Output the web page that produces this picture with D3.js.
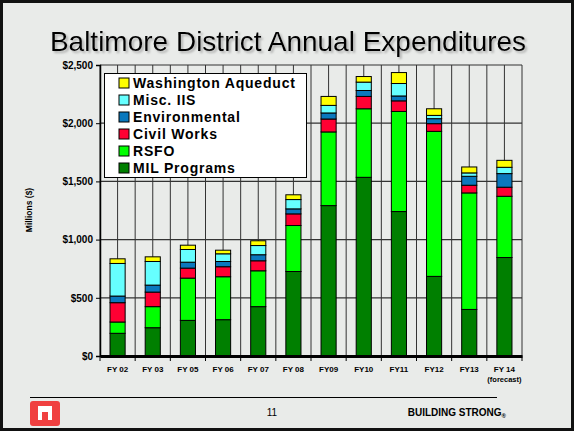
<!DOCTYPE html>
<html>
<head>
<meta charset="utf-8">
<script src="https://cdn.jsdelivr.net/npm/d3@7"></script>
<style>
  html, body { margin: 0; padding: 0; }
  body { width: 574px; height: 431px; overflow: hidden; }
  svg { display: block; font-family: "Liberation Sans", Arial, sans-serif; }
</style>
</head>
<body>
<div id="chart"></div>
<script>
// Datos (millones de $)
const years = ["FY 02", "FY 03", "FY 05", "FY 06", "FY 07", "FY 08", "FY09", "FY10", "FY11", "FY12", "FY13", "FY 14"];
const milPrograms = [195, 243, 306, 312, 424, 726, 1292, 1535, 1241, 684, 400, 846];
const rsfo        = [97, 181, 363, 369, 308, 395, 633, 589, 860, 1246, 1001, 526];
const civilWorks  = [166, 125, 86, 86, 86, 100, 111, 106, 91, 66, 66, 78];
const environmental = [57, 60, 51, 45, 52, 43, 52, 51, 42, 43, 77, 117];
const miscIIS     = [280, 203, 109, 66, 79, 80, 65, 72, 107, 28, 29, 54];
const washAqueduct = [40, 40, 37, 31, 41, 41, 77, 48, 94, 57, 51, 60];
const yTicks = [0, 500, 1000, 1500, 2000, 2500];

const series = [
    { key: "MIL Programs", values: milPrograms, color: "#007f00" },
    { key: "RSFO", values: rsfo, color: "#00ff00" },
    { key: "Civil Works", values: civilWorks, color: "#ff0033" },
    { key: "Environmental", values: environmental, color: "#0a78bd" },
    { key: "Misc. IIS", values: miscIIS, color: "#66ffff" },
    { key: "Washington Aqueduct", values: washAqueduct, color: "#ffff00" }
];

// Tabla para d3.stack
const table = years.map((y, i) => {
    const row = { year: y };
    series.forEach(s => row[s.key] = s.values[i]);
    return row;
});

const W = 574, H = 431;
const svg = d3.select("#chart").append("svg").attr("width", W).attr("height", H);

// Sombra del título
const defs = svg.append("defs");
defs.append("filter").attr("id", "shadow").attr("x", "-5%").attr("y", "-20%").attr("width", "110%").attr("height", "150%")
    .append("feDropShadow").attr("dx", 2).attr("dy", 2).attr("stdDeviation", 1)
    .attr("flood-color", "#888").attr("flood-opacity", 0.6);

// Fondo de la diapositiva
svg.append("rect").attr("width", W).attr("height", H).attr("fill", "#e9ebe9");
svg.append("rect").attr("x", 1.5).attr("y", 1.5).attr("width", W - 3).attr("height", H - 3)
    .attr("fill", "none").attr("stroke", "#111").attr("stroke-width", 3);

// Título
svg.append("text").attr("x", 288).attr("y", 51).attr("text-anchor", "middle")
    .attr("font-size", 28).attr("fill", "#000").attr("filter", "url(#shadow)")
    .text("Baltimore District Annual Expenditures");

// Área del gráfico
const plot = { left: 100, right: 522, top: 65, bottom: 356 };
const x = d3.scaleBand().domain(years).range([plot.left, plot.right]).paddingInner(0).paddingOuter(0);
const y = d3.scaleLinear().domain([0, 2500]).range([plot.bottom, plot.top]);

const g = svg.append("g");

// Rejilla vertical (bordes y centros de cada categoría)
const vLines = [];
years.forEach(yr => { vLines.push(x(yr)); vLines.push(x(yr) + x.bandwidth() / 2); });
vLines.push(plot.right);
g.selectAll("line.v").data(vLines).join("line")
    .attr("x1", d => d).attr("x2", d => d).attr("y1", plot.top).attr("y2", plot.bottom)
    .attr("stroke", "#333").attr("stroke-width", 1);

// Rejilla horizontal
g.selectAll("line.h").data(yTicks.slice(1)).join("line")
    .attr("x1", plot.left).attr("x2", plot.right).attr("y1", d => y(d)).attr("y2", d => y(d))
    .attr("stroke", "#333").attr("stroke-width", 1.2);

// Barras apiladas
const stack = d3.stack().keys(series.map(s => s.key));
const layers = stack(table);
const barW = x.bandwidth() * 0.43;
g.selectAll("g.layer").data(layers).join("g")
    .attr("fill", (d, i) => series[i].color)
    .selectAll("rect").data(d => d).join("rect")
    .attr("x", d => x(d.data.year) + (x.bandwidth() - barW) / 2)
    .attr("y", d => y(d[1]))
    .attr("width", barW)
    .attr("height", d => y(d[0]) - y(d[1]))
    .attr("stroke", "#000").attr("stroke-width", 1);

// Eje Y
const yAxis = svg.append("g").attr("transform", `translate(${plot.left},0)`)
    .call(d3.axisLeft(y).tickValues(yTicks).tickSize(4).tickFormat(d => "$" + d3.format(",")(d)));
yAxis.select(".domain").attr("stroke", "#000").attr("stroke-width", 1.5);
yAxis.selectAll("text").attr("font-size", 10).attr("font-weight", "bold").attr("fill", "#000")
    .attr("font-family", "Liberation Sans, Arial, sans-serif");

// Eje X
const xAxis = svg.append("g").attr("transform", `translate(0,${plot.bottom})`)
    .call(d3.axisBottom(x).tickSize(0).tickSizeOuter(0));
xAxis.select(".domain").attr("stroke", "#000").attr("stroke-width", 3);
xAxis.selectAll("text").attr("font-size", 8).attr("font-weight", "bold").attr("fill", "#000")
    .attr("dy", "1.6em").attr("font-family", "Liberation Sans, Arial, sans-serif");
// marcas en los bordes de categoría
svg.append("g").selectAll("line").data(years.map(d => x(d)).concat([plot.right])).join("line")
    .attr("x1", d => d).attr("x2", d => d).attr("y1", plot.bottom).attr("y2", plot.bottom + 5)
    .attr("stroke", "#000").attr("stroke-width", 1);
svg.append("text").attr("x", x("FY 14") + x.bandwidth() / 2).attr("y", 382)
    .attr("text-anchor", "middle").attr("font-size", 7.5).attr("font-weight", "bold").text("(forecast)");

// Título eje Y
svg.append("text").attr("transform", "translate(32,210) rotate(-90)").attr("text-anchor", "middle")
    .attr("font-size", 8.5).attr("font-weight", "bold").text("Millions ($)");

// Leyenda
const legend = svg.append("g");
legend.append("rect").attr("x", 104.5).attr("y", 73.5).attr("width", 202).attr("height", 104)
    .attr("fill", "#fff").attr("stroke", "#000").attr("stroke-width", 1);
const legItems = series.slice().reverse();
const li = legend.selectAll("g.item").data(legItems).join("g")
    .attr("transform", (d, i) => `translate(119,${83 + i * 17})`);
li.append("rect").attr("x", 0).attr("y", -5).attr("width", 10).attr("height", 10)
    .attr("fill", d => d.color).attr("stroke", "#000").attr("stroke-width", 1);
li.append("text").attr("x", 14).attr("y", 5).attr("font-size", 14).attr("letter-spacing", 0.8)
    .attr("font-weight", "bold").text(d => d.key);

// Pie de página
svg.append("line").attr("x1", 30).attr("x2", 497).attr("y1", 397.5).attr("y2", 397.5)
    .attr("stroke", "#000").attr("stroke-width", 1);
svg.append("rect").attr("x", 30).attr("y", 401).attr("width", 30).attr("height", 25).attr("rx", 3)
    .attr("fill", "#f04040");
svg.append("rect").attr("x", 38).attr("y", 406).attr("width", 14).attr("height", 14).attr("fill", "#fff");
svg.append("rect").attr("x", 42).attr("y", 412).attr("width", 6).attr("height", 8).attr("fill", "#f04040");
svg.append("text").attr("x", 272).attr("y", 416).attr("text-anchor", "middle")
    .attr("font-size", 10).text("11");
const bs = svg.append("text").attr("x", 506).attr("y", 416).attr("text-anchor", "end")
    .attr("font-size", 10).attr("font-weight", "bold").text("BUILDING STRONG");
bs.append("tspan").attr("font-size", 6).attr("dy", 2).text("®");
</script>
</body>
</html>
